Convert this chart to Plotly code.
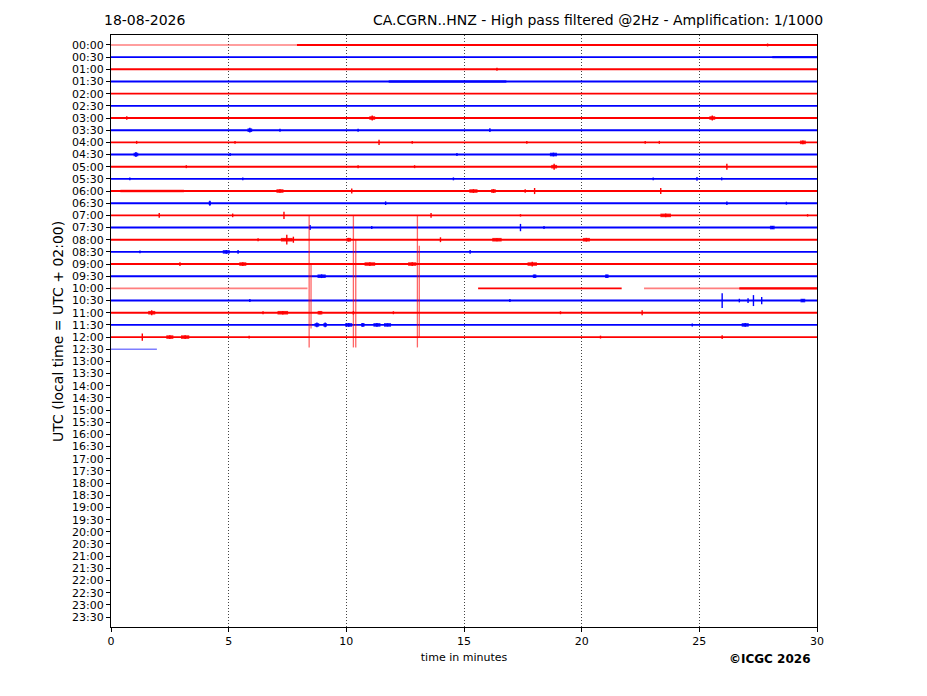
import plotly.graph_objects as go

# ---------------- data ----------------
row_labels = [f"{h:02d}:{m:02d}" for h in range(24) for m in (0, 30)]
# minutes of data recorded in each row that has data (rows 00:00 .. 12:30)
row_end = [30] * 25 + [1.95]
# gaps in the record: (row, start, end)
gaps = [(20, 8.35, 15.6), (20, 21.7, 22.65)]
# low-amplitude (faint) portions: (row, start, end)
faint = [(0, 0, 7.9), (20, 0, 8.35), (20, 22.65, 26.7), (25, 0, 1.95)]
# noisier portions: (row, start, end)
noisy = [(1, 28.1, 30), (3, 11.8, 16.8), (20, 26.7, 30), (12, 0.4, 3.1)]
# events: (row, minute, half-amplitude in rows, duration in minutes)
events = [
    (0, 27.9, 0.12, 0),
    (2, 16.4, 0.12, 0),
    (6, 0.67, 0.15, 0), (6, 11.1, 0.2, 0.25), (6, 25.55, 0.2, 0.25),
    (7, 5.9, 0.2, 0.2), (7, 7.18, 0.12, 0), (7, 10.5, 0.12, 0), (7, 16.1, 0.15, 0),
    (8, 1.09, 0.12, 0), (8, 5.27, 0.12, 0), (8, 11.39, 0.22, 0), (8, 12.8, 0.12, 0),
    (8, 17.67, 0.12, 0), (8, 22.7, 0.12, 0), (8, 23.3, 0.12, 0), (8, 29.4, 0.15, 0.25),
    (9, 1.06, 0.2, 0.2), (9, 5.06, 0.12, 0), (9, 14.7, 0.12, 0), (9, 18.8, 0.15, 0.3),
    (10, 3.2, 0.12, 0), (10, 10.5, 0.12, 0), (10, 12.9, 0.12, 0), (10, 18.83, 0.25, 0.25),
    (10, 26.17, 0.25, 0),
    (11, 0.8, 0.12, 0), (11, 5.6, 0.12, 0), (11, 14.55, 0.12, 0), (11, 23.04, 0.12, 0),
    (11, 24.9, 0.15, 0), (11, 25.95, 0.12, 0),
    (12, 7.18, 0.15, 0.3), (12, 10.23, 0.2, 0), (12, 15.4, 0.15, 0.35), (12, 16.25, 0.15, 0.2),
    (12, 17.6, 0.15, 0), (12, 18.0, 0.25, 0), (12, 23.36, 0.25, 0),
    (13, 4.2, 0.2, 0.1), (13, 11.67, 0.15, 0), (13, 26.17, 0.15, 0), (13, 28.7, 0.12, 0),
    (14, 2.05, 0.2, 0), (14, 5.17, 0.15, 0), (14, 7.35, 0.3, 0), (14, 13.6, 0.2, 0),
    (14, 17.4, 0.1, 0), (14, 23.57, 0.15, 0.45), (14, 29.6, 0.1, 0),
    (15, 8.46, 0.2, 0), (15, 11.08, 0.12, 0), (15, 17.4, 0.3, 0), (15, 18.4, 0.12, 0),
    (15, 28.1, 0.12, 0.2),
    (16, 6.25, 0.12, 0), (16, 7.47, 0.4, 0.5), (16, 7.75, 0.25, 0), (16, 10.1, 0.15, 0.2),
    (16, 14.0, 0.2, 0), (16, 16.4, 0.12, 0.4), (16, 20.2, 0.15, 0.3),
    (17, 1.23, 0.12, 0), (17, 4.9, 0.15, 0.3), (17, 5.4, 0.15, 0), (17, 15.26, 0.15, 0),
    (18, 2.93, 0.15, 0), (18, 5.6, 0.15, 0.3), (18, 11.0, 0.15, 0.45), (18, 12.8, 0.15, 0.35),
    (18, 17.9, 0.2, 0.4),
    (19, 8.95, 0.15, 0.35), (19, 18.0, 0.12, 0.15), (19, 21.07, 0.12, 0.15),
    (21, 5.9, 0.12, 0), (21, 16.95, 0.12, 0), (21, 25.97, 0.6, 0), (21, 26.7, 0.15, 0),
    (21, 27.07, 0.2, 0), (21, 27.3, 0.45, 0), (21, 27.65, 0.3, 0), (21, 29.4, 0.1, 0.2),
    (22, 1.73, 0.2, 0.3), (22, 6.46, 0.12, 0), (22, 7.3, 0.15, 0.45), (22, 8.88, 0.12, 0.2),
    (22, 10.3, 0.15, 0), (22, 12.0, 0.12, 0), (22, 19.1, 0.12, 0), (22, 22.57, 0.2, 0),
    (23, 8.75, 0.2, 0.2), (23, 9.1, 0.2, 0.15), (23, 10.1, 0.15, 0.3), (23, 10.7, 0.15, 0.15),
    (23, 11.3, 0.15, 0.3), (23, 11.75, 0.12, 0.3), (23, 24.7, 0.12, 0), (23, 26.95, 0.15, 0.3),
    (24, 1.33, 0.3, 0), (24, 2.5, 0.15, 0.3), (24, 3.15, 0.15, 0.35), (24, 5.87, 0.12, 0),
    (24, 20.8, 0.12, 0), (24, 25.97, 0.15, 0),
]
# large clipped transients in row 10:00: (row, minute, reach up in rows, reach down in rows)
big_spikes = [(20, 8.42, 6.0, 4.85), (20, 8.5, 2.0, 3.3), (20, 10.3, 6.0, 4.85),
              (20, 10.4, 4.0, 4.85), (20, 13.02, 6.0, 4.85), (20, 13.1, 3.5, 4.0)]

RED = "#ff0000"
BLUE = "#0000ff"


def color(r):
    return RED if r % 2 == 0 else BLUE


def subtract(intervals, cut):
    out = []
    a, b = cut
    for s, e in intervals:
        if b <= s or a >= e:
            out.append((s, e))
        else:
            if a > s:
                out.append((s, a))
            if b < e:
                out.append((b, e))
    return out


fig = go.Figure()

# baselines
for style, width, op in (("solid", 1.9, 1.0), ("faint", 1.6, 0.5), ("noisy", 2.4, 0.8)):
    for col in (RED, BLUE):
        xs, ys = [], []
        for r, end in enumerate(row_end):
            if color(r) != col:
                continue
            if style == "solid":
                ivs = [(0, end)]
                for g in gaps + faint:
                    if g[0] == r:
                        ivs = subtract(ivs, (g[1], g[2]))
            elif style == "faint":
                ivs = [(s, e) for (rr, s, e) in faint if rr == r]
            else:
                ivs = [(s, e) for (rr, s, e) in noisy if rr == r]
            for s, e in ivs:
                xs += [s, e, None]
                ys += [r, r, None]
        fig.add_trace(go.Scatter(x=xs, y=ys, mode="lines", opacity=op,
                                 line=dict(color=col, width=width),
                                 hoverinfo="skip", showlegend=False))

# events: spikes and bursts
for col in (RED, BLUE):
    sx, sy, bx, by = [], [], [], []
    for r, t, a, d in events:
        if color(r) != col:
            continue
        sx += [t, t, None]
        sy += [r - a, r + a, None]
        if d > 0:
            bx += [t - d / 2, t + d / 2, None]
            by += [r, r, None]
    fig.add_trace(go.Scatter(x=sx, y=sy, mode="lines", line=dict(color=col, width=1.4),
                             hoverinfo="skip", showlegend=False))
    fig.add_trace(go.Scatter(x=bx, y=by, mode="lines", opacity=0.85,
                             line=dict(color=col, width=3.6),
                             hoverinfo="skip", showlegend=False))

kx, ky = [], []
for r, t, up, dn in big_spikes:
    kx += [t, t, None]
    ky += [r - up, r + dn, None]
fig.add_trace(go.Scatter(x=kx, y=ky, mode="lines", opacity=0.6,
                         line=dict(color=RED, width=1.3),
                         hoverinfo="skip", showlegend=False))

# page offset of the figure inside the browser (body margin)
OFF = 8
PL, PR, PT, PB = 111 - OFF, 817 - OFF, 35 - OFF, 627 - OFF   # plot box in figure px
PW, PH = PR - PL, PB - PT

FONT = "DejaVu Sans"
fig.update_layout(
    width=927, height=696,
    margin=dict(l=PL, r=927 - PR, t=PT, b=696 - PB, autoexpand=False),
    paper_bgcolor="white", plot_bgcolor="white",
    font=dict(family=FONT, color="black", size=11),
    showlegend=False,
    xaxis=dict(range=[0, 30], tickvals=[0, 5, 10, 15, 20, 25, 30],
               ticks="outside", ticklen=4, tickcolor="black",
               showgrid=True, gridcolor="#444444", griddash="1px,2px", gridwidth=0.8,
               showline=True, linecolor="black", linewidth=1.2, mirror=True,
               zeroline=False, tickfont=dict(size=11),
               title=dict(text="time in minutes", font=dict(size=11), standoff=6)),
    yaxis=dict(range=[len(row_labels) - 0.18, -0.82],
               tickvals=list(range(len(row_labels))), ticktext=row_labels,
               ticks="outside", ticklen=4, tickcolor="black",
               showgrid=False, zeroline=False,
               showline=True, linecolor="black", linewidth=1.2, mirror=True,
               tickfont=dict(size=11)),
    annotations=[
        dict(text="UTC (local time = UTC + 02:00)", textangle=-90, xref="paper", yref="paper",
             x=-53 / PW, y=0.5, xanchor="center", yanchor="middle", showarrow=False,
             font=dict(size=14)),
        dict(text="CA.CGRN..HNZ - High pass filtered @2Hz - Amplification: 1/1000",
             xref="paper", yref="paper", x=(825 - 111) / PW, y=1 + 15 / PH,
             xanchor="right", yanchor="middle", showarrow=False, font=dict(size=14)),
        dict(text="18-08-2026", xref="paper", yref="paper", x=(102 - 111) / PW,
             y=1 + 15 / PH, xanchor="left", yanchor="middle", showarrow=False,
             font=dict(size=14)),
        dict(text="<b>©ICGC 2026</b>", xref="paper", yref="paper", x=(813 - 111) / PW,
             y=-(659 - 627) / PH, xanchor="right", yanchor="middle", showarrow=False,
             font=dict(size=12)),
    ],
)

fig.write_html("out.html")
